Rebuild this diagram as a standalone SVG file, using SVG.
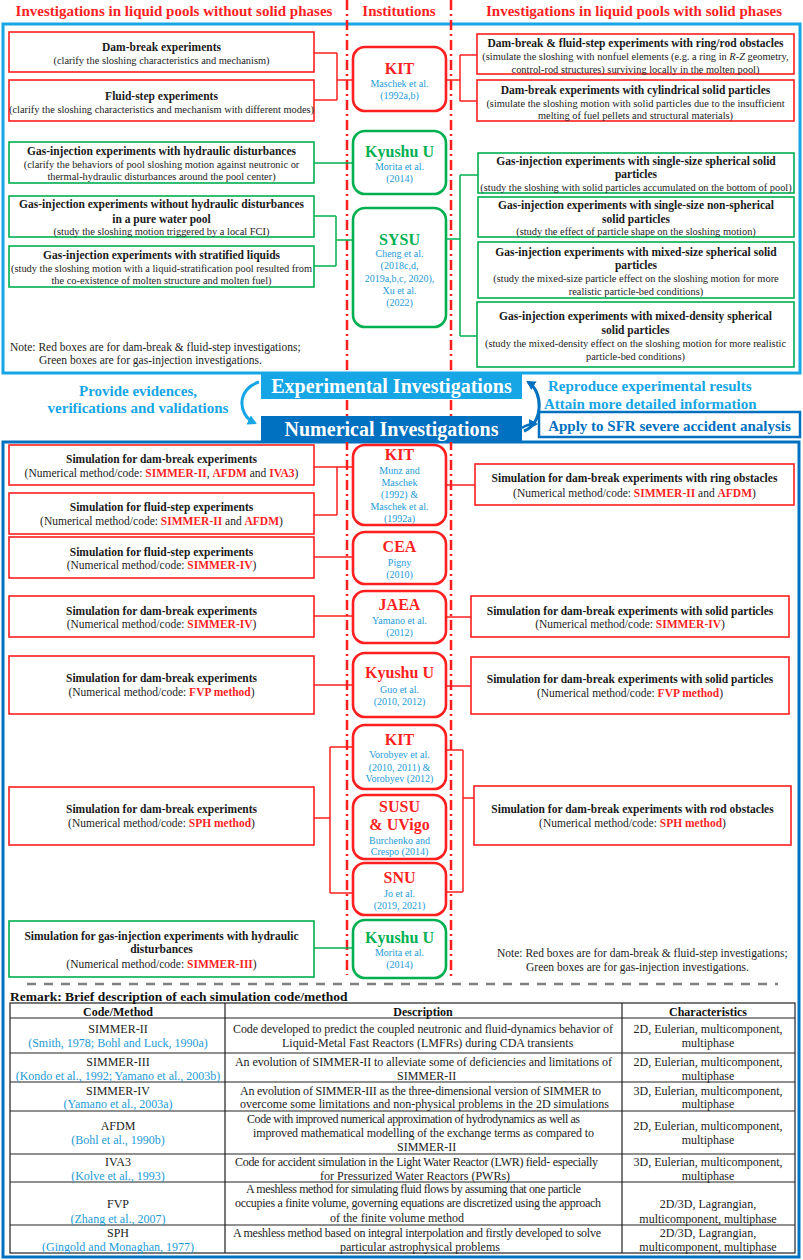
<svg xmlns="http://www.w3.org/2000/svg" width="803" height="1260" viewBox="0 0 803 1260" font-family="'Liberation Serif', 'DejaVu Serif', serif">
<style>
text,tspan{font-family:'Liberation Serif','DejaVu Serif',serif}
.rb{fill:#fff;stroke:#ff1f1f;stroke-width:1.6}
.gb{fill:#fff;stroke:#00b050;stroke-width:1.6}
.ri{fill:#fff;stroke:#ff1f1f;stroke-width:2.6}
.gi{fill:#fff;stroke:#00b050;stroke-width:2.6}
.t{font-weight:bold;font-size:11.5px;text-anchor:middle;fill:#1a1a1a}
.s{font-size:10.4px;text-anchor:middle;fill:#222}
.n{font-size:11.5px;text-anchor:middle;fill:#222}
.c{font-weight:bold;fill:#ff1f1f}
.inr{font-weight:bold;font-size:16px;text-anchor:middle;fill:#ff1f1f}
.ing{font-weight:bold;font-size:16px;text-anchor:middle;fill:#00b050}
.rf{font-size:10px;text-anchor:middle;fill:#1e9bd7}
.hd{font-weight:bold;font-size:15px;text-anchor:middle;fill:#ff1f1f}
.lr{fill:none;stroke:#ff1f1f;stroke-width:1.5}
.lg{fill:none;stroke:#00b050;stroke-width:1.5}
.note{font-size:11.5px;fill:#222}
.tb{font-size:12px;fill:#222}
.tbb{font-size:12px;fill:#1e9bd7;text-anchor:middle}
.tc{text-anchor:middle}
.th{font-weight:bold;font-size:12px;text-anchor:middle;fill:#111}
.grid{fill:none;stroke:#222;stroke-width:1.2}
</style>
<defs>
<marker id="ahL" markerWidth="10" markerHeight="10" refX="7" refY="5" orient="auto" markerUnits="userSpaceOnUse"><path d="M0,0 L9,5 L0,10 Z" fill="#16a6e6"/></marker>
<marker id="ahD" markerWidth="10" markerHeight="10" refX="7" refY="5" orient="auto" markerUnits="userSpaceOnUse"><path d="M0,0 L9,5 L0,10 Z" fill="#0070c0"/></marker>
</defs>
<rect width="803" height="1260" fill="#fff"/>

<!-- headers -->
<text class="hd" x="174" y="16">Investigations in liquid pools without solid phases</text>
<text class="hd" x="399" y="16">Institutions</text>
<text class="hd" x="634" y="16">Investigations in liquid pools with solid phases</text>

<!-- outer frames -->
<rect x="3" y="24" width="797" height="349" fill="none" stroke="#16a6e6" stroke-width="3"/>
<rect x="3" y="442" width="796" height="815" fill="none" stroke="#0070c0" stroke-width="3"/>

<!-- red dash-dot separators -->
<g id="separators" fill="none" stroke="#ff1f1f" stroke-width="2.5" stroke-dasharray="10 4 2 4">
<line x1="347" y1="0" x2="347" y2="975"/>
<line x1="451" y1="0" x2="451" y2="977"/>
</g>

<!-- connectors -->
<g id="connectors">
<path class="lr" d="M314,53 H337 M314,100 H337 M337,53 V100 M337,80 H353"/>
<path class="lr" d="M446,80 H460 M460,55 V101 M460,55 H477 M460,101 H477"/>
<path class="lg" d="M314,163 H353"/>
<path class="lg" d="M314,216 H336 M314,266 H336 M336,216 V266 M336,240 H353"/>
<path class="lg" d="M446,239 H460 M460,175 V336 M460,175 H478 M460,336 H477"/>
<path class="lr" d="M314,467 H353 M314,515 H337 M337,467 V515"/>
<path class="lr" d="M314,557 H353"/>
<path class="lr" d="M314,616 H353"/>
<path class="lr" d="M314,685 H353"/>
<path class="lr" d="M314,818 H330 M330,747 V893 M330,747 H353 M330,893 H353"/>
<path class="lg" d="M314,948 H353"/>
<path class="lr" d="M446,485 H475"/>
<path class="lr" d="M446,617 H471"/>
<path class="lr" d="M446,686 H471"/>
<path class="lr" d="M446,750 H463 M463,750 V892 M446,892 H463 M463,798 H474"/>
<path d="M259,382 C238,388 236,414 255,423" fill="none" stroke="#16a6e6" stroke-width="3" marker-end="url(#ahL)"/>
<path d="M524,431 C543,424 544,392 528,382" fill="none" stroke="#0070c0" stroke-width="3" marker-end="url(#ahD)"/>
<path d="M522,428 Q527,424 536,424" fill="none" stroke="#0070c0" stroke-width="2.5" marker-end="url(#ahD)"/>
</g>

<!-- experimental left boxes -->
<g id="e-dam"><rect class="rb" x="9" y="32" width="305" height="40"/>
<text class="t" x="161.5" y="51">Dam-break experiments</text>
<text class="s" x="161.5" y="64">(clarify the sloshing characteristics and mechanism)</text></g>
<g id="e-fluid"><rect class="rb" x="9" y="80" width="305" height="41"/>
<text class="t" x="161.5" y="100">Fluid-step experiments</text>
<text class="s" x="161.5" y="113">(clarify the sloshing characteristics and mechanism with different modes)</text></g>
<g id="e-gas-hyd"><rect class="gb" x="9" y="142" width="305" height="41"/>
<text class="t" x="161.5" y="155">Gas-injection experiments with hydraulic disturbances</text>
<text class="s" x="161.5" y="168">(clarify the behaviors of pool sloshing motion against neutronic or</text>
<text class="s" x="161.5" y="180">thermal-hydraulic disturbances around the pool center)</text></g>
<g id="e-gas-nohyd"><rect class="gb" x="9" y="196" width="305" height="41"/>
<text class="t" x="161.5" y="208">Gas-injection experiments without hydraulic disturbances</text>
<text class="t" x="161.5" y="223">in a pure water pool</text>
<text class="s" x="161.5" y="235">(study the sloshing motion triggered by a local FCI)</text></g>
<g id="e-gas-strat"><rect class="gb" x="9" y="246" width="305" height="41"/>
<text class="t" x="161.5" y="259">Gas-injection experiments with stratified liquids</text>
<text class="s" x="161.5" y="272">(study the sloshing motion with a liquid-stratification pool resulted from</text>
<text class="s" x="161.5" y="284">the co-existence of molten structure and molten fuel)</text></g>
<text class="note" x="10" y="351">Note: Red boxes are for dam-break &amp; fluid-step investigations;</text>
<text class="note" x="39" y="364">Green boxes are for gas-injection investigations.</text>

<!-- experimental institutions -->
<g id="i-kit1"><rect class="ri" x="353" y="47" width="93" height="64" rx="12"/>
<text class="inr" x="399.5" y="74">KIT</text>
<text class="rf" x="399.5" y="87">Maschek et al.</text>
<text class="rf" x="399.5" y="99">(1992a,b)</text></g>
<g id="i-kyushu1"><rect class="gi" x="353" y="131" width="93" height="63" rx="12"/>
<text class="ing" x="399.5" y="157">Kyushu U</text>
<text class="rf" x="399.5" y="170">Morita et al.</text>
<text class="rf" x="399.5" y="182">(2014)</text></g>
<g id="i-sysu"><rect class="gi" x="353" y="208" width="93" height="119" rx="12"/>
<text class="ing" x="399.5" y="245">SYSU</text>
<text class="rf" x="399.5" y="257">Cheng et al.</text>
<text class="rf" x="399.5" y="269">(2018c,d,</text>
<text class="rf" x="399.5" y="282">2019a,b,c, 2020),</text>
<text class="rf" x="399.5" y="294">Xu et al.</text>
<text class="rf" x="399.5" y="306">(2022)</text></g>

<!-- experimental right boxes -->
<g id="e-ring"><rect class="rb" x="477" y="34" width="317" height="40"/>
<text class="t" x="635.5" y="47">Dam-break &amp; fluid-step experiments with ring/rod obstacles</text>
<text class="s" x="635.5" y="60">(simulate the sloshing with nonfuel elements (e.g. a ring in <tspan font-style="italic">R-Z</tspan> geometry,</text>
<text class="s" x="635.5" y="73">control-rod structures) surviving locally in the molten pool)</text></g>
<g id="e-cyl"><rect class="rb" x="477" y="80" width="317" height="41"/>
<text class="t" x="635.5" y="94">Dam-break experiments with cylindrical solid particles</text>
<text class="s" x="635.5" y="107">(simulate the sloshing motion with solid particles due to the insufficient</text>
<text class="s" x="635.5" y="119">melting of fuel pellets and structural materials)</text></g>
<g id="e-single"><rect class="gb" x="478" y="153" width="316" height="40"/>
<text class="t" x="636" y="165">Gas-injection experiments with single-size spherical solid</text>
<text class="t" x="636" y="178">particles</text>
<text class="s" x="636" y="191">(study the sloshing with solid particles accumulated on the bottom of pool)</text></g>
<g id="e-nonsph"><rect class="gb" x="478" y="197" width="316" height="40"/>
<text class="t" x="636" y="209">Gas-injection experiments with single-size non-spherical</text>
<text class="t" x="636" y="223">solid particles</text>
<text class="s" x="636" y="235">(study the effect of particle shape on the sloshing motion)</text></g>
<g id="e-mixsize"><rect class="gb" x="478" y="242" width="316" height="56"/>
<text class="t" x="636" y="256">Gas-injection experiments with mixed-size spherical solid</text>
<text class="t" x="636" y="269">particles</text>
<text class="s" x="636" y="282">(study the mixed-size particle effect on the sloshing motion for more</text>
<text class="s" x="636" y="295">realistic particle-bed conditions)</text></g>
<g id="e-mixdens"><rect class="gb" x="477" y="302" width="317" height="65"/>
<text class="t" x="635.5" y="320">Gas-injection experiments with mixed-density spherical</text>
<text class="t" x="635.5" y="334">solid particles</text>
<text class="s" x="635.5" y="347">(study the mixed-density effect on the sloshing motion for more realistic</text>
<text class="s" x="635.5" y="360">particle-bed conditions)</text></g>

<!-- banners -->
<g id="b-exp"><rect x="261" y="373" width="261" height="26" fill="#16a6e6"/>
<text x="391.5" y="393" font-size="20" font-weight="bold" fill="#fff" text-anchor="middle">Experimental Investigations</text></g>
<g id="b-num"><rect x="261" y="416" width="261" height="26" fill="#0070c0"/>
<text x="391.5" y="436" font-size="20" font-weight="bold" fill="#fff" text-anchor="middle">Numerical Investigations</text></g>
<text x="138" y="396" font-size="15" font-weight="bold" fill="#16a6e6" text-anchor="middle">Provide evidences,</text>
<text x="138" y="413" font-size="15" font-weight="bold" fill="#16a6e6" text-anchor="middle">verifications and validations</text>
<text x="548" y="391" font-size="15" font-weight="bold" fill="#16a6e6">Reproduce experimental results</text>
<text x="544" y="409" font-size="15" font-weight="bold" fill="#16a6e6">Attain more detailed information</text>
<g id="apply"><rect x="539" y="412" width="261" height="25" fill="#fff" stroke="#0070c0" stroke-width="2.5"/>
<text x="669.5" y="431" font-size="15" font-weight="bold" fill="#0070c0" text-anchor="middle">Apply to SFR severe accident analysis</text></g>

<!-- numerical left boxes -->
<g id="n1"><rect class="rb" x="9" y="445" width="305" height="40"/>
<text class="t" x="161.5" y="463">Simulation for dam-break experiments</text>
<text class="n" x="161.5" y="477">(Numerical method/code: <tspan class="c">SIMMER-II</tspan>, <tspan class="c">AFDM</tspan> and <tspan class="c">IVA3</tspan>)</text></g>
<g id="n2"><rect class="rb" x="9" y="493" width="305" height="41"/>
<text class="t" x="161.5" y="511">Simulation for fluid-step experiments</text>
<text class="n" x="161.5" y="525">(Numerical method/code: <tspan class="c">SIMMER-II</tspan> and <tspan class="c">AFDM</tspan>)</text></g>
<g id="n3"><rect class="rb" x="9" y="537" width="305" height="41"/>
<text class="t" x="161.5" y="556">Simulation for fluid-step experiments</text>
<text class="n" x="161.5" y="569">(Numerical method/code: <tspan class="c">SIMMER-IV</tspan>)</text></g>
<g id="n4"><rect class="rb" x="9" y="596" width="305" height="41"/>
<text class="t" x="161.5" y="615">Simulation for dam-break experiments</text>
<text class="n" x="161.5" y="628">(Numerical method/code: <tspan class="c">SIMMER-IV</tspan>)</text></g>
<g id="n5"><rect class="rb" x="9" y="656" width="305" height="58"/>
<text class="t" x="161.5" y="682">Simulation for dam-break experiments</text>
<text class="n" x="161.5" y="696">(Numerical method/code: <tspan class="c">FVP method</tspan>)</text></g>
<g id="n6"><rect class="rb" x="9" y="787" width="305" height="58"/>
<text class="t" x="161.5" y="813">Simulation for dam-break experiments</text>
<text class="n" x="161.5" y="827">(Numerical method/code: <tspan class="c">SPH method</tspan>)</text></g>
<g id="n7"><rect class="gb" x="9" y="921" width="305" height="56"/>
<text class="t" x="161.5" y="940">Simulation for gas-injection experiments with hydraulic</text>
<text class="t" x="161.5" y="953">disturbances</text>
<text class="n" x="161.5" y="968">(Numerical method/code: <tspan class="c">SIMMER-III</tspan>)</text></g>

<!-- numerical institutions -->
<g id="i-kit2"><rect class="ri" x="353" y="445" width="93" height="80" rx="12"/>
<text class="inr" x="399.5" y="460">KIT</text>
<text class="rf" x="399.5" y="474">Munz and</text>
<text class="rf" x="399.5" y="486">Maschek</text>
<text class="rf" x="399.5" y="498">(1992) &amp;</text>
<text class="rf" x="399.5" y="510">Maschek et al.</text>
<text class="rf" x="399.5" y="522">(1992a)</text></g>
<g id="i-cea"><rect class="ri" x="353" y="532" width="93" height="52" rx="12"/>
<text class="inr" x="399.5" y="552">CEA</text>
<text class="rf" x="399.5" y="566">Pigny</text>
<text class="rf" x="399.5" y="578">(2010)</text></g>
<g id="i-jaea"><rect class="ri" x="353" y="591" width="93" height="52" rx="12"/>
<text class="inr" x="399.5" y="610">JAEA</text>
<text class="rf" x="399.5" y="624">Yamano et al.</text>
<text class="rf" x="399.5" y="636">(2012)</text></g>
<g id="i-kyushu2"><rect class="ri" x="353" y="653" width="93" height="64" rx="12"/>
<text class="inr" x="399.5" y="678">Kyushu U</text>
<text class="rf" x="399.5" y="693">Guo et al.</text>
<text class="rf" x="399.5" y="705">(2010, 2012)</text></g>
<g id="i-kit3"><rect class="ri" x="353" y="725" width="93" height="64" rx="12"/>
<text class="inr" x="399.5" y="745">KIT</text>
<text class="rf" x="399.5" y="758">Vorobyev et al.</text>
<text class="rf" x="399.5" y="771">(2010, 2011) &amp;</text>
<text class="rf" x="399.5" y="782">Vorobyev (2012)</text></g>
<g id="i-susu"><rect class="ri" x="353" y="795" width="93" height="64" rx="12"/>
<text class="inr" x="399.5" y="812">SUSU</text>
<text class="inr" x="399.5" y="830">&amp; UVigo</text>
<text class="rf" x="399.5" y="844">Burchenko and</text>
<text class="rf" x="399.5" y="855">Crespo (2014)</text></g>
<g id="i-snu"><rect class="ri" x="353" y="863" width="93" height="52" rx="12"/>
<text class="inr" x="399.5" y="883">SNU</text>
<text class="rf" x="399.5" y="897">Jo et al.</text>
<text class="rf" x="399.5" y="909">(2019, 2021)</text></g>
<g id="i-kyushu3"><rect class="gi" x="353" y="920" width="93" height="58" rx="12"/>
<text class="ing" x="399.5" y="943">Kyushu U</text>
<text class="rf" x="399.5" y="956">Morita et al.</text>
<text class="rf" x="399.5" y="968">(2014)</text></g>

<!-- numerical right boxes -->
<g id="nr1"><rect class="rb" x="475" y="464" width="319" height="41"/>
<text class="t" x="634.5" y="482">Simulation for dam-break experiments with ring obstacles</text>
<text class="n" x="634.5" y="497">(Numerical method/code: <tspan class="c">SIMMER-II</tspan> and <tspan class="c">AFDM</tspan>)</text></g>
<g id="nr2"><rect class="rb" x="471" y="596" width="318" height="41"/>
<text class="t" x="630" y="615">Simulation for dam-break experiments with solid particles</text>
<text class="n" x="630" y="628">(Numerical method/code: <tspan class="c">SIMMER-IV</tspan>)</text></g>
<g id="nr3"><rect class="rb" x="471" y="657" width="318" height="57"/>
<text class="t" x="630" y="683">Simulation for dam-break experiments with solid particles</text>
<text class="n" x="630" y="697">(Numerical method/code: <tspan class="c">FVP method</tspan>)</text></g>
<g id="nr4"><rect class="rb" x="474" y="786" width="317" height="59"/>
<text class="t" x="632.5" y="813">Simulation for dam-break experiments with rod obstacles</text>
<text class="n" x="632.5" y="827">(Numerical method/code: <tspan class="c">SPH method</tspan>)</text></g>
<text class="note" x="497" y="957">Note: Red boxes are for dam-break &amp; fluid-step investigations;</text>
<text class="note" x="526" y="971">Green boxes are for gas-injection investigations.</text>

<line x1="27" y1="984" x2="778" y2="984" stroke="#808080" stroke-width="2.5" stroke-dasharray="9 8"/>

<!-- table -->
<g id="table">
<text x="10" y="1001" font-size="13.5" font-weight="bold" fill="#111">Remark: Brief description of each simulation code/method</text>
<rect class="grid" x="10" y="1003" width="785" height="250"/>
<path class="grid" d="M225,1003 V1253 M622,1003 V1253 M10,1018 H795 M10,1053 H795 M10,1082 H795 M10,1111 H795 M10,1154 H795 M10,1182 H795 M10,1225 H795"/>
<text class="th" x="118" y="1016">Code/Method</text>
<text class="th" x="423" y="1016">Description</text>
<text class="th" x="708" y="1016">Characteristics</text>

<text class="tb tc" x="118" y="1033">SIMMER-II</text>
<text class="tbb" x="118" y="1047">(Smith, 1978; Bohl and Luck, 1990a)</text>
<text class="tb" x="233" y="1033" textLength="380" lengthAdjust="spacing">Code developed to predict the coupled neutronic and fluid-dynamics behavior of</text>
<text class="tb" x="282" y="1047">Liquid-Metal Fast Reactors (LMFRs) during CDA transients</text>
<text class="tb tc" x="708" y="1033">2D, Eulerian, multicomponent,</text>
<text class="tb tc" x="708" y="1047">multiphase</text>

<text class="tb tc" x="118" y="1066">SIMMER-III</text>
<text class="tbb" x="118" y="1080">(Kondo et al., 1992; Yamano et al., 2003b)</text>
<text class="tb" x="235" y="1066" textLength="377" lengthAdjust="spacing">An evolution of SIMMER-II to alleviate some of deficiencies and limitations of</text>
<text class="tb" x="397" y="1080">SIMMER-II</text>
<text class="tb tc" x="708" y="1066">2D, Eulerian, multicomponent,</text>
<text class="tb tc" x="708" y="1080">multiphase</text>

<text class="tb tc" x="118" y="1095">SIMMER-IV</text>
<text class="tbb" x="118" y="1108">(Yamano et al., 2003a)</text>
<text class="tb" x="240" y="1095" textLength="361" lengthAdjust="spacing">An evolution of SIMMER-III as the three-dimensional version of SIMMER to</text>
<text class="tb" x="240" y="1108">overcome some limitations and non-physical problems in the 2D simulations</text>
<text class="tb tc" x="708" y="1095">3D, Eulerian, multicomponent,</text>
<text class="tb tc" x="708" y="1108">multiphase</text>

<text class="tb tc" x="118" y="1130">AFDM</text>
<text class="tbb" x="118" y="1144">(Bohl et al., 1990b)</text>
<text class="tb" x="247" y="1123" textLength="333" lengthAdjust="spacing">Code with improved numerical approximation of hydrodynamics as well as</text>
<text class="tb" x="253" y="1137" textLength="341" lengthAdjust="spacing">improved mathematical modelling of the exchange terms as compared to</text>
<text class="tb" x="397" y="1151">SIMMER-II</text>
<text class="tb tc" x="708" y="1130">2D, Eulerian, multicomponent,</text>
<text class="tb tc" x="708" y="1144">multiphase</text>

<text class="tb tc" x="118" y="1166">IVA3</text>
<text class="tbb" x="118" y="1180">(Kolve et al., 1993)</text>
<text class="tb" x="235" y="1166" textLength="363" lengthAdjust="spacing">Code for accident simulation in the Light Water Reactor (LWR) field- especially</text>
<text class="tb" x="320" y="1180">for Pressurized Water Reactors (PWRs)</text>
<text class="tb tc" x="708" y="1166">3D, Eulerian, multicomponent,</text>
<text class="tb tc" x="708" y="1180">multiphase</text>

<text class="tb tc" x="118" y="1208">FVP</text>
<text class="tbb" x="118" y="1223">(Zhang et al., 2007)</text>
<text class="tb" x="246" y="1193" textLength="335" lengthAdjust="spacing">A meshless method for simulating fluid flows by assuming that one particle</text>
<text class="tb" x="235" y="1207" textLength="366" lengthAdjust="spacing">occupies a finite volume, governing equations are discretized using the approach</text>
<text class="tb" x="330" y="1222">of the finite volume method</text>
<text class="tb tc" x="708" y="1208">2D/3D, Lagrangian,</text>
<text class="tb tc" x="708" y="1223">multicomponent, multiphase</text>

<text class="tb tc" x="118" y="1237">SPH</text>
<text class="tbb" x="118" y="1251">(Gingold and Monaghan, 1977)</text>
<text class="tb" x="233" y="1237" textLength="368" lengthAdjust="spacing">A meshless method based on integral interpolation and firstly developed to solve</text>
<text class="tb" x="340" y="1251">particular astrophysical problems</text>
<text class="tb tc" x="708" y="1237">2D/3D, Lagrangian,</text>
<text class="tb tc" x="708" y="1251">multicomponent, multiphase</text>
</g>
</svg>
